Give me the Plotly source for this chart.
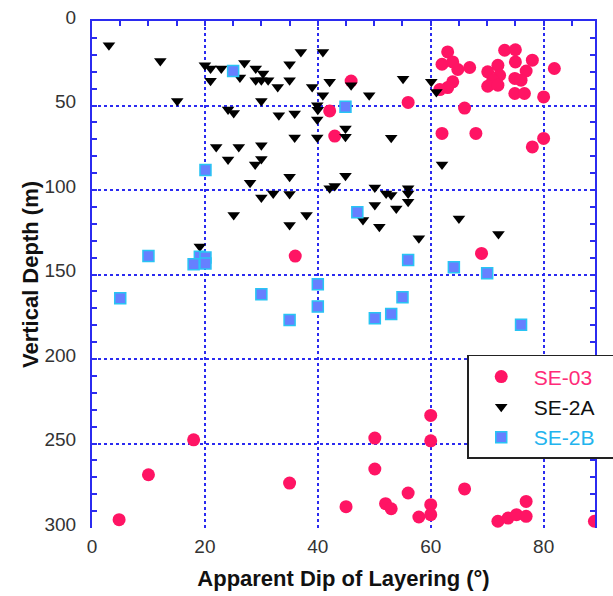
import plotly.graph_objects as go

# ---- data ----
se03_dip = [42.1, 43.0, 45.9, 56.0, 63.0, 62.0, 63.9, 64.8, 66.9, 63.9, 63.0, 61.6, 66.0, 62.0, 68.0,
            73.1, 75.0, 75.0, 78.0, 71.9, 70.1, 72.2, 71.0, 70.1, 71.9, 74.9, 76.9, 76.0, 74.9, 76.6,
            80.0, 81.9, 80.0, 78.0,
            36.0, 69.0,
            18.0, 10.0, 4.8, 35.0, 45.0, 60.0, 60.0, 50.1, 50.1, 56.0, 52.0, 53.0, 57.9, 60.0, 60.0,
            66.0, 71.9, 73.7, 75.2, 76.9, 76.9, 89.0]
se03_depth = [53.2, 68.1, 35.5, 48.2, 18.3, 25.6, 24.2, 28.7, 27.5, 36.0, 39.4, 40.6, 51.5, 66.5, 66.5,
              17.3, 17.0, 24.2, 23.2, 26.2, 30.1, 32.1, 35.0, 38.6, 38.0, 34.0, 29.6, 35.0, 42.9, 42.9,
              44.9, 28.1, 69.5, 74.5,
              139.1, 137.5,
              247.8, 268.5, 295.1, 273.4, 287.4, 233.4, 248.4, 246.8, 265.1, 279.3, 285.6, 288.6, 293.5,
              286.2, 292.1, 276.9, 296.0, 294.1, 292.1, 293.1, 284.3, 296.0]

se2a_dip = [3.0, 12.1, 15.1, 20.0, 21.0, 22.9, 21.0, 26.2, 27.0, 29.0, 30.3, 29.0, 30.0, 31.2, 32.9,
            35.0, 35.0, 37.0, 40.9, 39.0, 42.1, 40.9, 30.0, 39.9, 40.0, 39.9, 24.1, 25.1, 33.1, 35.9,
            35.9, 39.9, 22.0, 26.0, 30.0, 24.1, 30.0, 28.9, 35.0, 28.0, 30.0, 32.1, 35.0, 25.1, 35.0,
            38.0, 19.1, 42.1, 43.0, 45.9, 49.1, 44.9, 44.9, 53.0, 55.1, 60.1, 61.0, 62.0, 44.9, 50.1,
            52.1, 53.0, 56.0, 56.0, 56.0, 50.1, 53.9, 48.0, 50.9, 57.9, 65.0, 72.0]
se2a_depth = [14.4, 23.6, 47.3, 26.2, 28.1, 28.1, 35.4, 33.4, 24.8, 28.1, 31.1, 35.0, 35.0, 35.0, 39.0,
              25.6, 35.0, 18.3, 18.3, 39.0, 36.0, 43.9, 47.3, 49.8, 52.5, 58.3, 52.4, 54.4, 55.7, 54.7,
              68.9, 68.9, 74.5, 74.5, 73.5, 81.9, 81.6, 84.9, 92.2, 95.7, 104.5, 102.0, 102.4, 114.8, 120.7,
              114.8, 133.5, 99.0, 97.7, 38.0, 43.9, 63.6, 68.5, 69.1, 34.1, 36.0, 42.0, 84.9, 91.6, 98.5,
              102.0, 103.0, 99.0, 102.0, 107.0, 108.9, 110.9, 117.8, 121.7, 128.6, 116.8, 126.1]

se2b_dip = [25.0, 44.9, 20.1, 47.0, 10.0, 19.1, 20.1, 18.0, 20.1, 5.0, 30.0, 35.0, 40.0, 40.0,
            56.0, 64.1, 70.0, 55.0, 53.0, 50.1, 76.0]
se2b_depth = [29.6, 50.8, 88.2, 113.2, 139.1, 139.5, 140.0, 144.0, 143.5, 164.1, 161.7, 176.9, 155.8, 169.0,
              141.4, 145.7, 149.3, 163.5, 173.3, 175.9, 179.8]

x_ticks = [0, 20, 40, 60, 80]
y_ticks = [0, 50, 100, 150, 200, 250, 300]

PINK = "#ff1464"
BLUE_AX = "#2b2bf0"
FONT = "Liberation Sans, Arial, Helvetica, sans-serif"
PAD = "\u00a0" * 6

fig = go.Figure()
fig.add_trace(go.Scatter(x=se03_dip, y=se03_depth, mode="markers",
                         name="<span style='color:#ff2b78'>SE-03</span>" + PAD,
                         marker=dict(symbol="circle", size=13, color=PINK, line=dict(width=0))))
fig.add_trace(go.Scatter(x=se2a_dip, y=se2a_depth, mode="markers",
                         name="<span style='color:#111111'>SE-2A</span>",
                         marker=dict(symbol="triangle-down", size=11, color="#000000", line=dict(width=0))))
fig.add_trace(go.Scatter(x=se2b_dip, y=se2b_depth, mode="markers",
                         name="<span style='color:#22b4ee'>SE-2B</span>",
                         marker=dict(symbol="square", size=11, color="#6680ff",
                                     line=dict(width=1.5, color="#28c4f4"))))
# invisible helper trace so the top axis (ticks only) is drawn
fig.add_trace(go.Scatter(x=[None], y=[None], xaxis="x2", showlegend=False, hoverinfo="skip"))

fig.update_layout(
    width=613, height=596,
    margin=dict(l=92, r=18, t=21, b=68, pad=0, autoexpand=False),
    plot_bgcolor="white", paper_bgcolor="white",
    font=dict(family=FONT, color="#333333"),
    xaxis=dict(range=[0, 89.1], tickvals=x_ticks, showgrid=True, gridcolor=BLUE_AX, griddash="dot",
               gridwidth=1.5, showline=False, zeroline=False, ticks="",
               tickfont=dict(size=19, color="#333333"), ticklabelstandoff=5,
               title=dict(text="<b>Apparent Dip of Layering (°)</b>", font=dict(size=22, color="#111111"),
                          standoff=14)),
    xaxis2=dict(range=[0, 89.1], overlaying="x", side="top", anchor="y", showline=True, linecolor=BLUE_AX,
                linewidth=2, ticks="inside", tick0=0, dtick=5, ticklen=5, tickwidth=1.5, tickcolor=BLUE_AX,
                showticklabels=False, showgrid=False, zeroline=False),
    yaxis=dict(range=[300, 0], tickvals=y_ticks, showgrid=True, gridcolor=BLUE_AX, griddash="dot",
               gridwidth=1.5, showline=True, linecolor=BLUE_AX, linewidth=2, mirror="ticks",
               ticks="inside", ticklen=5, tickwidth=1.5, tickcolor=BLUE_AX, zeroline=False,
               minor=dict(dtick=10, tick0=0, ticks="inside", ticklen=5, tickwidth=1.5, tickcolor=BLUE_AX,
                          showgrid=False),
               tickfont=dict(size=19, color="#333333"), ticklabelstandoff=10, ticklabelshift=4,
               title=dict(text="<b>Vertical Depth (m)</b>", font=dict(size=22, color="#111111"),
                          standoff=0)),
    legend=dict(x=0.746, y=0.3414, xanchor="left", yanchor="top", bgcolor="white",
                bordercolor="#222222", borderwidth=1.5, font=dict(size=21, family=FONT),
                tracegroupgap=0, itemwidth=55),
)

fig.write_html("out.html")
